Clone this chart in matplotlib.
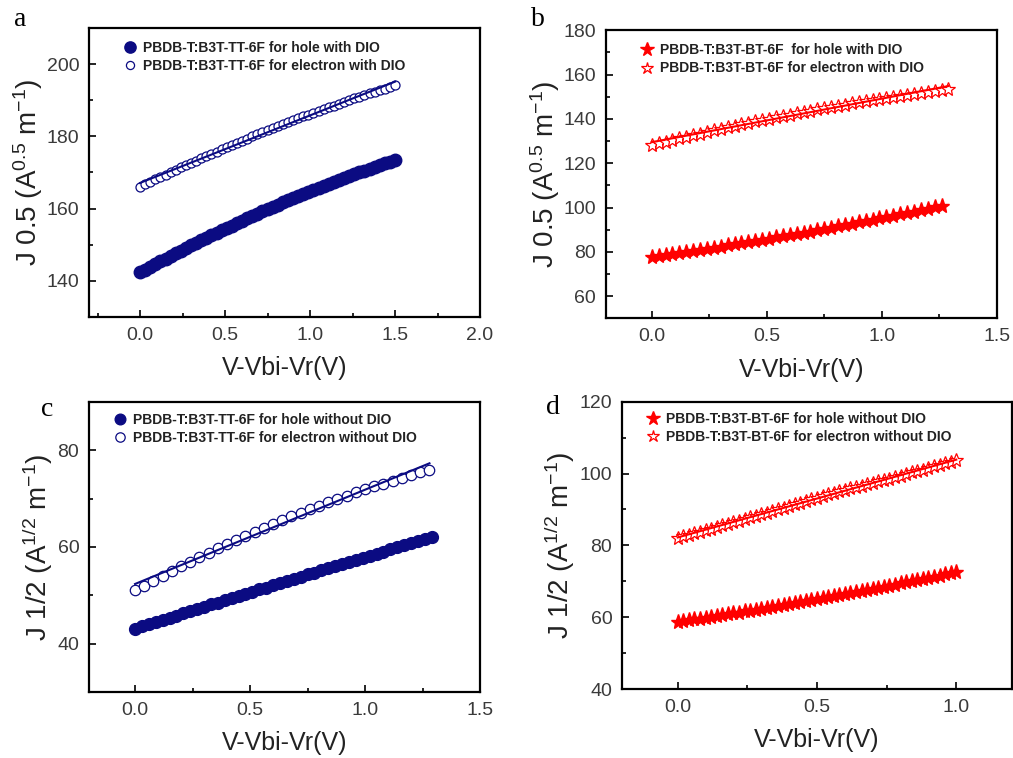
import numpy as np
import matplotlib
matplotlib.use("Agg")
import matplotlib.pyplot as plt
from matplotlib.ticker import AutoMinorLocator, MultipleLocator

plt.rcParams['font.family'] = ['Liberation Sans', 'DejaVu Sans']
plt.rcParams['mathtext.fontset'] = 'custom'
plt.rcParams['mathtext.rm'] = 'Liberation Sans'
plt.rcParams['mathtext.it'] = 'Liberation Sans:italic'

# ---------------- data ----------------
# panel a (with DIO, B3T-TT-6F)
x_a = [0.00, 0.03, 0.06, 0.09, 0.12, 0.15, 0.18, 0.21, 0.24, 0.27, 0.30, 0.33, 0.36,
       0.39, 0.42, 0.45, 0.48, 0.51, 0.54, 0.57, 0.60, 0.63, 0.66, 0.69, 0.72, 0.75,
       0.78, 0.81, 0.84, 0.87, 0.90, 0.93, 0.96, 0.99, 1.02, 1.05, 1.08, 1.11, 1.14,
       1.17, 1.20, 1.23, 1.26, 1.29, 1.32, 1.35, 1.38, 1.41, 1.44, 1.47, 1.50]
a_hole = [142.3, 143.1, 143.8, 144.6, 145.4, 146.1, 146.9, 147.6, 148.3, 149.1, 149.8,
          150.5, 151.2, 151.9, 152.6, 153.3, 154.0, 154.7, 155.3, 156.0, 156.6, 157.3,
          157.9, 158.6, 159.2, 159.8, 160.5, 161.1, 161.7, 162.3, 162.9, 163.5, 164.0,
          164.6, 165.2, 165.7, 166.3, 166.8, 167.4, 167.9, 168.5, 169.0, 169.5, 170.0,
          170.5, 171.0, 171.5, 172.0, 172.5, 173.0, 173.4]
a_elec = [166.0, 166.7, 167.4, 168.1, 168.7, 169.4, 170.1, 170.7, 171.4, 172.0, 172.7,
          173.3, 174.0, 174.6, 175.2, 175.8, 176.4, 177.1, 177.7, 178.2, 178.8, 179.4,
          180.0, 180.6, 181.1, 181.7, 182.3, 182.8, 183.4, 183.9, 184.5, 185.0, 185.5,
          186.0, 186.5, 187.1, 187.6, 188.1, 188.5, 189.0, 189.5, 190.0, 190.5, 190.9,
          191.4, 191.9, 192.3, 192.7, 193.2, 193.6, 194.1]

# panel b (with DIO, B3T-BT-6F)
x_b = [0.00, 0.03, 0.06, 0.09, 0.12, 0.15, 0.18, 0.21, 0.24, 0.27, 0.30, 0.33, 0.36,
       0.39, 0.42, 0.45, 0.48, 0.51, 0.54, 0.57, 0.60, 0.63, 0.66, 0.69, 0.72, 0.75,
       0.78, 0.81, 0.84, 0.87, 0.90, 0.93, 0.96, 0.99, 1.02, 1.05, 1.08, 1.11, 1.14,
       1.17, 1.20, 1.23, 1.26, 1.29]
b_hole = [77.8, 78.2, 78.7, 79.1, 79.6, 80.0, 80.5, 81.0, 81.5, 81.9, 82.4, 82.9, 83.4,
          83.9, 84.4, 84.9, 85.5, 86.0, 86.5, 87.0, 87.6, 88.1, 88.7, 89.2, 89.8, 90.4,
          90.9, 91.5, 92.1, 92.7, 93.3, 93.9, 94.5, 95.1, 95.7, 96.3, 97.0, 97.6, 98.2,
          98.9, 99.5, 100.2, 100.8]
b_elec = [128.2, 129.0, 129.7, 130.5, 131.2, 132.0, 132.7, 133.4, 134.1, 134.8, 135.5,
          136.2, 136.9, 137.6, 138.2, 138.9, 139.5, 140.1, 140.8, 141.4, 142.0, 142.6,
          143.2, 143.8, 144.3, 144.9, 145.5, 146.0, 146.5, 147.1, 147.6, 148.1, 148.6,
          149.1, 149.6, 150.0, 150.5, 151.0, 151.4, 151.9, 152.3, 152.7, 153.1, 153.5]

# panel c (without DIO, B3T-TT-6F)
x_c_hole = [0.00, 0.03, 0.06, 0.09, 0.12, 0.15, 0.18, 0.21, 0.24, 0.27, 0.30, 0.33, 0.36,
            0.39, 0.42, 0.45, 0.48, 0.51, 0.54, 0.57, 0.60, 0.63, 0.66, 0.69, 0.72, 0.75,
            0.78, 0.81, 0.84, 0.87, 0.90, 0.93, 0.96, 0.99, 1.02, 1.05, 1.08, 1.11, 1.14,
            1.17, 1.20, 1.23, 1.26, 1.29]
c_hole = [43.1, 43.6, 44.0, 44.5, 44.9, 45.4, 45.8, 46.3, 46.7, 47.2, 47.6, 48.1, 48.5,
          49.0, 49.4, 49.9, 50.3, 50.7, 51.2, 51.6, 52.1, 52.5, 53.0, 53.4, 53.8, 54.3,
          54.7, 55.2, 55.6, 56.0, 56.5, 56.9, 57.3, 57.8, 58.2, 58.6, 59.0, 59.5, 59.9,
          60.3, 60.8, 61.2, 61.6, 62.0]
x_c_elec = [0.00, 0.04, 0.08, 0.12, 0.16, 0.20, 0.24, 0.28, 0.32, 0.36, 0.40, 0.44, 0.48,
            0.52, 0.56, 0.60, 0.64, 0.68, 0.72, 0.76, 0.80, 0.84, 0.88, 0.92, 0.96, 1.00,
            1.04, 1.08, 1.12, 1.16, 1.20, 1.24, 1.28]
c_elec = [51.0, 52.0, 53.0, 54.0, 55.0, 56.0, 56.9, 57.9, 58.8, 59.7, 60.6, 61.5, 62.3,
          63.1, 64.0, 64.8, 65.6, 66.3, 67.1, 67.8, 68.5, 69.2, 69.9, 70.6, 71.3, 71.9,
          72.5, 73.1, 73.7, 74.3, 74.9, 75.4, 75.9]

# panel d (without DIO, B3T-BT-6F)
x_d = [0.00, 0.02, 0.04, 0.06, 0.08, 0.10, 0.12, 0.14, 0.16, 0.18, 0.20, 0.22, 0.24,
       0.26, 0.28, 0.30, 0.32, 0.34, 0.36, 0.38, 0.40, 0.42, 0.44, 0.46, 0.48, 0.50,
       0.52, 0.54, 0.56, 0.58, 0.60, 0.62, 0.64, 0.66, 0.68, 0.70, 0.72, 0.74, 0.76,
       0.78, 0.80, 0.82, 0.84, 0.86, 0.88, 0.90, 0.92, 0.94, 0.96, 0.98, 1.00]
d_hole = [58.7, 58.9, 59.2, 59.4, 59.6, 59.9, 60.1, 60.3, 60.6, 60.8, 61.1, 61.3, 61.6,
          61.8, 62.1, 62.3, 62.6, 62.8, 63.1, 63.4, 63.6, 63.9, 64.2, 64.4, 64.7, 65.0,
          65.3, 65.6, 65.8, 66.1, 66.4, 66.7, 67.0, 67.3, 67.6, 67.9, 68.2, 68.5, 68.8,
          69.1, 69.4, 69.7, 70.0, 70.3, 70.7, 71.0, 71.3, 71.6, 71.9, 72.3, 72.6]
d_elec = [82.1, 82.5, 83.0, 83.4, 83.8, 84.3, 84.7, 85.2, 85.6, 86.0, 86.5, 86.9, 87.3,
          87.8, 88.2, 88.7, 89.1, 89.6, 90.0, 90.5, 90.9, 91.4, 91.9, 92.4, 92.8, 93.3,
          93.8, 94.2, 94.7, 95.1, 95.5, 95.9, 96.2, 96.6, 97.0, 97.4, 97.8, 98.2, 98.6,
          99.0, 99.4, 99.8, 100.3, 100.7, 101.1, 101.6, 102.0, 102.4, 102.9, 103.3, 103.8]

labels_a = ["PBDB-T:B3T-TT-6F for hole with DIO", "PBDB-T:B3T-TT-6F for electron with DIO"]
labels_b = ["PBDB-T:B3T-BT-6F  for hole with DIO", "PBDB-T:B3T-BT-6F for electron with DIO"]
labels_c = ["PBDB-T:B3T-TT-6F for hole without DIO", "PBDB-T:B3T-TT-6F for electron without DIO"]
labels_d = ["PBDB-T:B3T-BT-6F for hole without DIO", "PBDB-T:B3T-BT-6F for electron without DIO"]

NAVY = '#0b0b82'
RED = '#ff0000'
TICKC = '#3a3a3a'

fig = plt.figure(figsize=(10.13, 7.58), dpi=100)


def style_axes(ax, xlim, ylim, xmaj, ymaj, ylabel, ypad):
    ax.set_xlim(*xlim)
    ax.set_ylim(*ylim)
    ax.xaxis.set_major_locator(MultipleLocator(xmaj))
    ax.yaxis.set_major_locator(MultipleLocator(ymaj))
    ax.xaxis.set_minor_locator(AutoMinorLocator(2))
    ax.yaxis.set_minor_locator(AutoMinorLocator(2))
    ax.tick_params(which='both', direction='in', top=False, right=False,
                   labelsize=14, labelcolor=TICKC, width=1.2)
    ax.tick_params(which='major', length=5, pad=7)
    ax.tick_params(which='minor', length=3)
    for s in ax.spines.values():
        s.set_linewidth(1.6)
    ax.set_xlabel("V-Vbi-Vr(V)", fontsize=18, color='#222222', labelpad=9)
    ax.set_ylabel(ylabel, fontsize=20, color='#222222', labelpad=ypad)


def plot_pair(ax, xh, yh, xe, ye, color, marker, ms_h, ms_e, labels, anchor):
    ax.plot(xh, yh, linestyle='none', marker=marker, ms=ms_h, color=color,
            mec=color, label=labels[0], zorder=2)
    ax.plot(xe, ye, linestyle='none', marker=marker, ms=ms_e, mfc='white',
            mec=color, mew=0.9, label=labels[1], zorder=2)
    for xx, yy in ((xh, yh), (xe, ye)):
        p = np.polyfit(xx, yy, 1)
        xs = np.array([xx[0], xx[-1]])
        ax.plot(xs, np.polyval(p, xs), color=color, lw=1.5, zorder=3)
    leg = ax.legend(loc='upper left', bbox_to_anchor=anchor, frameon=False,
                    prop={'size': 10, 'weight': 'bold'}, borderpad=0,
                    handletextpad=0.35, labelspacing=0.3, borderaxespad=0,
                    handlelength=1.2, markerscale=0.9)
    for t in leg.get_texts():
        t.set_color('#222222')
    return leg


# panel a
ax_a = fig.add_axes([0.0879, 0.582, 0.386, 0.381])
plot_pair(ax_a, x_a, a_hole, x_a, a_elec, NAVY, 'o', 9, 6.5, labels_a, (0.084, 0.955))
style_axes(ax_a, (-0.3, 2.0), (130, 210), 0.5, 20, "J 0.5 (A$^{0.5}$ m$^{-1}$)", 1)

# panel b
ax_b = fig.add_axes([0.598, 0.580, 0.386, 0.380])
plot_pair(ax_b, x_b[:len(b_hole)], b_hole, x_b, b_elec, RED, '*', 11, 10, labels_b,
          (0.084, 0.955))
style_axes(ax_b, (-0.2, 1.5), (50, 180), 0.5, 20, "J 0.5 (A$^{0.5}$ m$^{-1}$)", 1)

# panel c
ax_c = fig.add_axes([0.0879, 0.087, 0.386, 0.383])
plot_pair(ax_c, x_c_hole, c_hole, x_c_elec, c_elec, NAVY, 'o', 8.5, 7.5, labels_c,
          (0.058, 0.962))
style_axes(ax_c, (-0.2, 1.5), (30, 90), 0.5, 20, "J 1/2 (A$^{1/2}$ m$^{-1}$)", 2)

# panel d
ax_d = fig.add_axes([0.614, 0.091, 0.385, 0.379])
plot_pair(ax_d, x_d, d_hole, x_d, d_elec, RED, '*', 11, 10, labels_d, (0.058, 0.965))
style_axes(ax_d, (-0.2, 1.2), (40, 120), 0.5, 20, "J 1/2 (A$^{1/2}$ m$^{-1}$)", 2)

# panel letters
for letter, (px, py) in zip("abcd", [(20, 20), (538, 20), (47, 410), (553, 407)]):
    fig.text(px / 1013, 1 - py / 758, letter, fontsize=20, family='Liberation Serif',
             ha='center', va='center')

fig.savefig("out.png", dpi=100)
